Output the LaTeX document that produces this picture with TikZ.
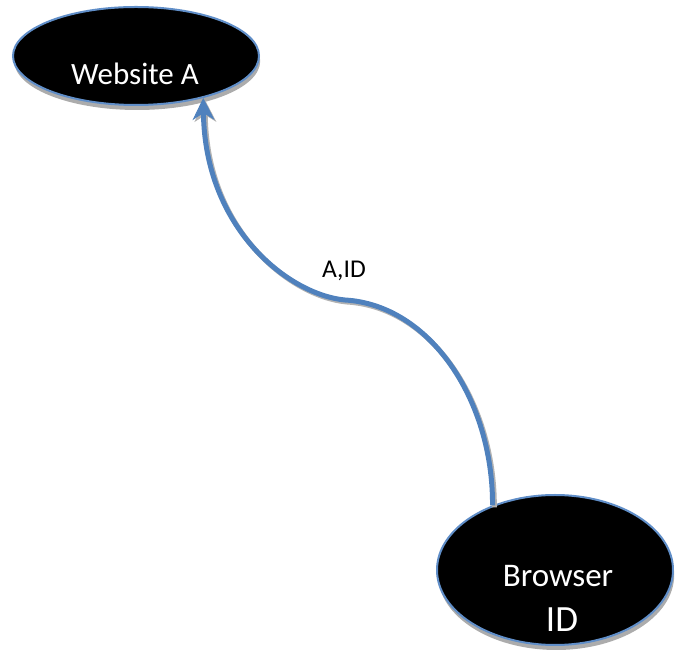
\documentclass[tikz,border=0pt]{standalone}
\usepackage{fontspec}
\setmainfont{Carlito}
\usetikzlibrary{shapes.geometric,shadows,arrows.meta}

\definecolor{linkblue}{RGB}{79,129,189}
\definecolor{rimblue}{RGB}{96,142,200}

\tikzset{
  site/.style={ellipse,fill=black,draw=rimblue,line width=1pt,inner sep=0pt,
    drop shadow={shadow xshift=0.6pt,shadow yshift=-2.5pt,fill=gray!65,opacity=1}},
  sitetext/.style={text=white,anchor=base},
  link/.style={draw=linkblue,line width=2.5pt,
    -{Stealth[length=11pt,width=11pt,inset=3.5pt,line width=0.4pt]}},
  linkshadow/.style={link,draw=gray!60,transform canvas={xshift=0.9pt,yshift=-1pt}}
}

\begin{document}
\begin{tikzpicture}[x=0.5pt,y=-0.5pt]
  \useasboundingbox (0,0) rectangle (675,651);
  % the two ends
  \node[site,minimum width=123pt,minimum height=49pt] (webA) at (136,56) {};
  \node[site,minimum width=118pt,minimum height=75pt] (browser) at (555,570) {};
  \node[sitetext,font=\fontsize{15.5}{18}\selectfont] (webAtxt) at (135,85) {Website A};
  \node[sitetext,font=\fontsize{16.5}{20}\selectfont] (browsertxt) at (558,587) {Browser};
  \node[sitetext,font=\fontsize{18.5}{22}\selectfont] (idtxt) at (562,632) {ID};

  % redirect, shadow first
  \draw[linkshadow] (browser.134) .. controls (493,400) and (430,305) .. (345,300)
    .. controls (290,295) and (205,230) .. (webA.-32);
  \draw[link] (browser.134) .. controls (493,400) and (430,305) .. (345,300)
    .. controls (290,295) and (205,230) .. (webA.-32);
  \node[anchor=base,font=\fontsize{12.8}{15}\selectfont] (aid) at (344,278) {A,ID};
\end{tikzpicture}
\end{document}
